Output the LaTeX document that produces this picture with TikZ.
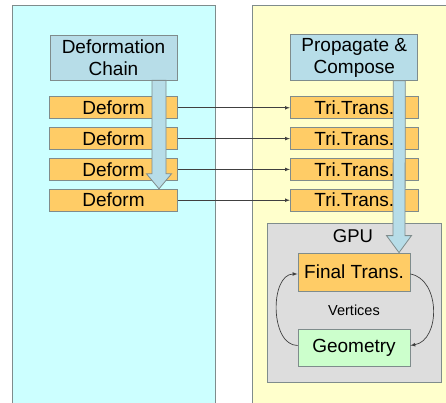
\documentclass[tikz,border=0pt]{standalone}
\usepackage{fontspec}
\setmainfont{Liberation Sans}
\usetikzlibrary{positioning, arrows, calc}

\definecolor{cyanbg}{HTML}{CCFFFF}
\definecolor{yellowbg}{HTML}{FFFFCC}
\definecolor{orangebox}{HTML}{FFCC66}
\definecolor{bluebox}{HTML}{B7DDE8}
\definecolor{gpugray}{HTML}{DDDDDD}
\definecolor{greenbox}{HTML}{CCFFCC}
\definecolor{edgegray}{HTML}{7F8C8C}

\begin{document}
\begin{tikzpicture}[
    x=1pt, y=-1pt,
    panel/.style={rectangle, draw=edgegray, line width=1.3pt, anchor=north west},
    stage/.style={rectangle, draw=edgegray, fill=bluebox, line width=0.8pt, minimum width=127pt, minimum height=45pt, align=center, font=\fontsize{19}{22}\selectfont},
    item/.style={rectangle, draw=edgegray, fill=orangebox, line width=0.8pt, minimum width=128pt, minimum height=22pt, inner sep=0pt, font=\fontsize{19}{22}\selectfont},
    unit/.style={rectangle, draw=edgegray, line width=0.8pt, minimum width=112pt, inner sep=0pt, font=\fontsize{19}{22}\selectfont},
    link/.style={draw=black!75, line width=0.7pt, -latex},
    fatarrow/.style={draw=edgegray, fill=bluebox, line width=0.8pt, line join=miter}
]
\clip (0,0) rectangle (446,403);
\fill[white] (0,0) rectangle (446,403);

% Panels
\node[panel, fill=cyanbg, minimum width=203pt, minimum height=430pt] (leftpanel) at (12,5) {};
\node[panel, fill=yellowbg, minimum width=220pt, minimum height=430pt] (rightpanel) at (252,5) {};

% Left column
\node[stage] (chain) at (113.5,57.5) {Deformation\\Chain};
\node[item, below=16pt of chain.south, anchor=north] (deform1) {Deform};
\node[item, below=8pt of deform1] (deform2) {Deform};
\node[item, below=8pt of deform2] (deform3) {Deform};
\node[item, below=8pt of deform3] (deform4) {Deform};

% Right column
\node[stage, right=113pt of chain] (propagate) {Propagate \&\\Compose};
\node[item, right=112pt of deform1] (tri1) {Tri.Trans.};
\node[item, right=112pt of deform2] (tri2) {Tri.Trans.};
\node[item, right=112pt of deform3] (tri3) {Tri.Trans.};
\node[item, right=112pt of deform4] (tri4) {Tri.Trans.};

% GPU
\node[rectangle, draw=edgegray, fill=gpugray, line width=0.8pt, minimum width=174pt, minimum height=159pt] (gpu) at (354,302.5) {};
\node[font=\fontsize{18.5}{22}\selectfont] (gpulabel) at (353,236) {GPU};
\node[unit, fill=orangebox, minimum height=38pt] (final) at (354,272) {Final Trans.};
\node[unit, fill=greenbox, minimum height=37pt] (geometry) at (354,347.5) {Geometry};
\node[font=\fontsize{14.5}{17}\selectfont] (vertices) at (354,310) {Vertices};

% Connections
\draw[link] (deform1) -- (tri1);
\draw[link] (deform2) -- (tri2);
\draw[link] (deform3) -- (tri3);
\draw[link] (deform4) -- (tri4);
\draw[link] ([yshift=-2pt]final.east) to[out=-10, in=10, looseness=1.1] ([yshift=2pt]geometry.east);
\draw[link] ([yshift=2pt]geometry.west) to[out=180, in=180, looseness=1] ([yshift=-2pt]final.west);

% Fat arrows
\coordinate (ltop) at ([xshift=45.5pt]chain.south);
\coordinate (ltip) at ([xshift=45.5pt]deform4.north);
\coordinate (rtop) at ([xshift=45pt]propagate.south);
\coordinate (rtip) at ([xshift=45pt]final.north);
\draw[fatarrow] ([xshift=-7pt]ltop) -- ([xshift=-7pt, yshift=15pt]ltip) -- ([xshift=-12.5pt, yshift=15pt]ltip) -- (ltip)
    -- ([xshift=12.5pt, yshift=15pt]ltip) -- ([xshift=7pt, yshift=15pt]ltip) -- ([xshift=7pt]ltop) -- cycle;
\draw[fatarrow] ([xshift=-6pt]rtop) -- ([xshift=-6pt, yshift=17pt]rtip) -- ([xshift=-12.5pt, yshift=17pt]rtip) -- (rtip)
    -- ([xshift=12.5pt, yshift=17pt]rtip) -- ([xshift=6pt, yshift=17pt]rtip) -- ([xshift=6pt]rtop) -- cycle;

\end{tikzpicture}
\end{document}
